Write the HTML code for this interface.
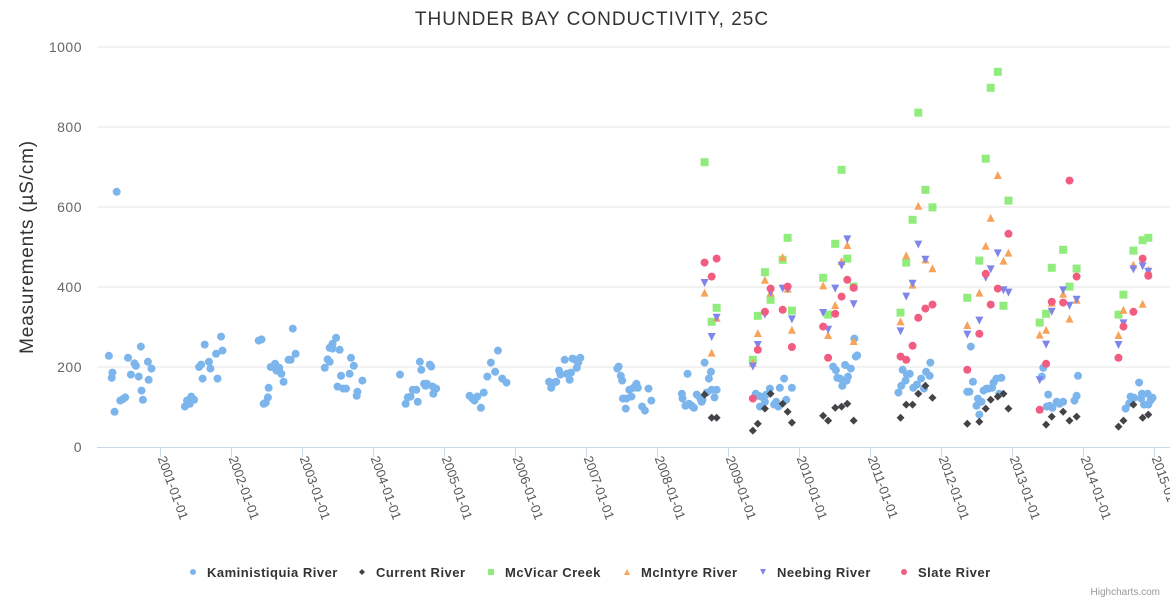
<!DOCTYPE html>
<html><head><meta charset="utf-8">
<style>
body{margin:0;background:#fff;}
svg{display:block;font-family:"Liberation Sans",sans-serif;}
</style></head>
<body>
<svg id="chart" width="1170" height="600">
<rect width="1170" height="600" fill="#fff"/>
<text x="592" y="25" text-anchor="middle" font-size="19" letter-spacing="1" fill="#333">THUNDER BAY CONDUCTIVITY, 25C</text>
<text transform="translate(33,247) rotate(-90)" text-anchor="middle" font-size="19" letter-spacing="0.8" fill="#333">Measurements (µS/cm)</text>
<g id="grid"></g><g id="xaxis"></g><g id="marks"></g><g id="legend"></g>
<text x="1160" y="595" text-anchor="end" font-size="10" fill="#999">Highcharts.com</text>
</svg>
<script>
const yTicks=[0,200,400,600,800,1000];
const xTickYears=[2001,2002,2003,2004,2005,2006,2007,2008,2009,2010,2011,2012,2013,2014,2015];
const seriesNames=["Kaministiquia River","Current River","McVicar Creek","McIntyre River","Neebing River","Slate River"];
const kamDates=[2000.28,2000.33,2000.32,2000.39,2000.36,2000.44,2000.48,2000.51,2000.55,2000.59,2000.64,2000.66,2000.70,2000.73,2000.74,2000.76,2000.83,2000.84,2000.88,
2001.35,2001.38,2001.42,2001.44,2001.48,2001.55,2001.58,2001.60,2001.63,2001.69,2001.71,2001.79,2001.81,2001.86,2001.88,
2002.39,2002.43,2002.46,2002.49,2002.52,2002.53,2002.56,2002.62,2002.64,2002.68,2002.71,2002.74,2002.81,2002.84,2002.87,2002.91,
2003.32,2003.36,2003.39,2003.39,2003.43,2003.48,2003.43,2003.53,2003.50,2003.55,2003.58,2003.62,2003.67,2003.69,2003.73,2003.77,2003.78,2003.85,
2004.38,2004.46,2004.49,2004.53,2004.56,2004.61,2004.63,2004.66,2004.68,2004.72,2004.76,2004.74,2004.80,2004.82,2004.84,2004.89,2004.85,
2005.36,2005.40,2005.43,2005.47,2005.52,2005.56,2005.61,2005.66,2005.72,2005.76,2005.82,2005.88,
2006.48,2006.51,2006.55,2006.58,2006.62,2006.64,2006.70,2006.73,2006.77,2006.79,2006.81,2006.85,2006.87,2006.89,2006.92,
2007.44,2007.46,2007.49,2007.51,2007.52,2007.56,2007.57,2007.61,2007.64,2007.67,2007.71,2007.73,2007.79,2007.83,2007.88,2007.92,
2008.35,2008.36,2008.40,2008.43,2008.45,2008.49,2008.52,2008.56,2008.61,2008.63,2008.64,2008.67,2008.70,2008.73,2008.76,2008.77,2008.81,2008.84,
2009.39,2009.43,2009.46,2009.45,2009.52,2009.54,2009.59,2009.65,2009.68,2009.71,2009.73,2009.79,2009.82,2009.90,
2010.48,2010.52,2010.54,2010.58,2010.61,2010.65,2010.67,2010.69,2010.73,2010.78,2010.80,2010.82,
2011.40,2011.44,2011.46,2011.50,2011.52,2011.56,2011.61,2011.66,2011.72,2011.76,2011.79,2011.84,2011.85,
2012.37,2012.40,2012.42,2012.45,2012.50,2012.52,2012.54,2012.57,2012.60,2012.64,2012.67,2012.72,2012.74,2012.78,2012.82,2012.85,
2013.44,2013.42,2013.51,2013.49,2013.53,2013.57,2013.63,2013.67,2013.72,2013.88,2013.91,2013.93,
2014.60,2014.65,2014.67,2014.72,2014.79,2014.83,2014.82,2014.86,2014.91,2014.95,2014.98,2014.92];
const kamValues=[228,186,173,638,88,116,120,124,223,181,209,203,176,251,141,118,213,168,196,
101,116,108,126,118,200,206,171,256,213,196,233,171,276,241,
266,269,108,111,124,148,200,208,191,198,183,163,218,218,296,233,
198,219,213,248,258,273,246,243,151,178,146,146,183,223,203,128,138,166,
181,108,124,126,143,143,113,213,193,158,158,153,206,201,151,146,133,
128,121,116,126,98,136,176,211,188,241,171,161,
163,148,161,163,191,181,218,183,168,186,221,218,198,211,223,
196,201,178,166,121,96,121,143,126,148,158,148,101,91,146,116,
133,121,103,183,108,103,98,131,121,113,118,211,136,171,188,143,124,143,
133,128,126,101,113,131,146,106,113,101,148,171,118,148,
201,192,173,171,153,205,166,176,196,271,226,229,
136,153,193,166,181,183,148,156,171,146,188,178,211,
138,138,251,163,103,121,81,113,141,146,146,148,161,171,133,173,
198,176,131,101,103,98,113,108,113,116,128,178,
96,109,126,123,161,133,121,106,133,116,123,106];
const curDates=[2008.67,2008.77,2008.84,2009.35,2009.42,2009.52,2009.60,2009.77,2009.84,2009.90,2010.34,2010.41,2010.51,2010.60,2010.68,2010.77,2011.43,2011.51,2011.60,2011.68,2011.78,2011.88,2012.37,2012.54,2012.63,2012.70,2012.80,2012.88,2012.95,2013.48,2013.56,2013.72,2013.81,2013.91,2014.50,2014.57,2014.71,2014.84,2014.92];
const curValues=[131,73,73,41,58,96,133,108,88,61,78,66,98,101,108,66,73,106,106,133,153,123,58,63,96,118,126,133,96,56,76,88,66,76,51,66,106,73,81];
const groupDates=[2008.67,2008.77,2008.84,2009.35,2009.42,2009.52,2009.60,2009.77,2009.84,2009.90,2010.34,2010.41,2010.51,2010.60,2010.68,2010.77,2011.43,2011.51,2011.60,2011.68,2011.78,2011.88,2012.37,2012.54,2012.63,2012.70,2012.80,2012.88,2012.95,2013.39,2013.48,2013.56,2013.72,2013.81,2013.91,2014.50,2014.57,2014.71,2014.84,2014.92];
const mcvValues=[712,313,348,218,328,437,368,468,523,341,423,331,508,693,471,401,336,461,568,836,643,599,373,466,721,898,938,353,616,311,333,448,493,401,446,331,381,491,517,523];
const mciValues=[386,236,323,211,285,418,386,475,396,293,404,280,355,465,505,265,314,479,406,603,469,447,305,386,503,573,680,466,486,281,293,361,383,321,368,280,343,456,358,443];
const neeValues=[410,275,323,201,255,331,386,396,394,319,335,293,396,453,519,357,289,376,408,506,468,null,281,316,423,444,484,392,386,167,256,338,392,353,368,255,309,444,452,438];
const slaValues=[461,426,471,121,243,338,396,343,401,250,301,223,333,376,418,398,226,218,253,323,346,356,193,283,433,356,396,null,533,93,208,363,361,666,426,223,301,338,471,428];

const NS="http://www.w3.org/2000/svg";
const X0=160,PXY=71,Y0=447,PYV=0.4,LEFT=97,RIGHT=1170;
function xs(yr){return X0+(yr-2001)*PXY;}
function ys(v){return Y0-v*PYV;}
function mk(tag,attrs,parent){const e=document.createElementNS(NS,tag);for(const k in attrs)e.setAttribute(k,attrs[k]);parent.appendChild(e);return e;}
const grid=document.getElementById('grid'),xa=document.getElementById('xaxis'),marks=document.getElementById('marks'),leg=document.getElementById('legend');
yTicks.forEach(t=>{
  if(t>0){const l=mk('line',{x1:LEFT,x2:RIGHT,y1:ys(t),y2:ys(t),stroke:'#e6e6e6'},grid);
  
  }
  const tx=mk('text',{x:82,y:ys(t)+5,'text-anchor':'end','font-size':14,'letter-spacing':0.5,fill:'#666'},grid);
  tx.textContent=t;
  
  
});
const ax=mk('line',{x1:LEFT,x2:RIGHT,y1:Y0+0.5,y2:Y0+0.5,stroke:'#ccd6eb'},xa);


xTickYears.forEach(yr=>{
  const x=Math.round(xs(yr))+0.5;
  const tk=mk('line',{x1:x,x2:x,y1:Y0,y2:Y0+10,stroke:'#ccd6eb'},xa);
  
  
  const t=mk('text',{transform:`translate(${x-3},${Y0+11}) rotate(70)`,'font-size':13,fill:'#555'},xa);
  t.textContent=yr+'-01-01';
  
  
});
const colors=['#7cb5ec','#434348','#90ed7d','#f7a35c','#8085e9','#f15c80'];
function marker(shape,cx,cy,col,parent,s){
  s=s||4;let e;
  if(shape==='circle')e=mk('circle',{cx:cx,cy:cy,r:s,fill:col},parent);
  else if(shape==='diamond')e=mk('path',{d:`M${cx},${cy-s}L${cx+s},${cy}L${cx},${cy+s}L${cx-s},${cy}Z`,fill:col},parent);
  else if(shape==='square')e=mk('rect',{x:cx-s,y:cy-s,width:2*s,height:2*s,fill:col},parent);
  else if(shape==='triangle')e=mk('path',{d:`M${cx},${cy-s}L${cx+s},${cy+s}L${cx-s},${cy+s}Z`,fill:col},parent);
  else e=mk('path',{d:`M${cx-s},${cy-s}L${cx+s},${cy-s}L${cx},${cy+s}Z`,fill:col},parent);
  return e;
}
const shapes=['circle','diamond','square','triangle','triangle-down','circle'];
const seriesData=[[kamDates,kamValues],[curDates,curValues],[groupDates,mcvValues],[groupDates,mciValues],[groupDates,neeValues],[groupDates,slaValues]];
seriesData.forEach((s,si)=>{
  const g=mk('g',{},marks);
  
  
  s[0].forEach((d,i)=>{
    const v=s[1][i]; if(v==null)return;
    const m=marker(shapes[si],xs(d),ys(v),colors[si],g);
    
    
  });
});
const legX=[193,362,491,627,763,904];
seriesNames.forEach((n,i)=>{
  const g=mk('g',{},leg);
  
  
  marker(shapes[i],legX[i],572,colors[i],g,3);
  const t=mk('text',{x:legX[i]+14,y:577,'font-size':13,'font-weight':'bold','letter-spacing':0.5,fill:'#333'},g);
  t.textContent=n;
});
</script>
</body></html>
